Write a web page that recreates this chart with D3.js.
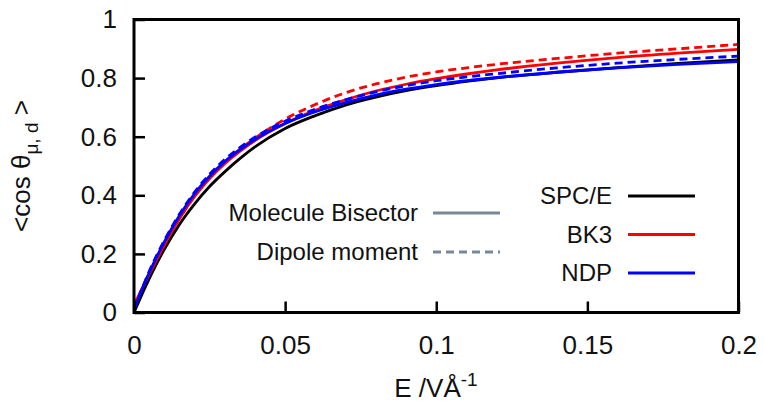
<!DOCTYPE html>
<html><head><meta charset="utf-8">
<script src="https://cdn.jsdelivr.net/npm/d3@7"></script>
<style>body{margin:0;background:#fff}svg{display:block;font-family:"Liberation Sans",Arial,sans-serif}</style>
</head><body><svg id="c" width="764" height="406"></svg>
<script>
const E = [0,0.005,0.01,0.015,0.02,0.025,0.03,0.035,0.04,0.05,0.06,0.07,0.08,0.09,0.1,0.11,0.12,0.14,0.16,0.18,0.2];
const spceBisector = [0,0.115,0.215,0.30,0.37,0.43,0.48,0.525,0.565,0.628,0.672,0.708,0.735,0.757,0.774,0.789,0.801,0.82,0.836,0.85,0.862];
const bk3Bisector  = [0.025,0.13,0.23,0.32,0.395,0.457,0.508,0.55,0.587,0.645,0.69,0.726,0.756,0.779,0.798,0.814,0.828,0.851,0.87,0.885,0.898];
const bk3Dipole    = [0.025,0.13,0.23,0.32,0.397,0.46,0.513,0.557,0.595,0.66,0.71,0.75,0.78,0.803,0.821,0.835,0.847,0.867,0.885,0.90,0.915];
const ndpBisector  = [0.01,0.135,0.24,0.33,0.405,0.465,0.515,0.555,0.59,0.645,0.685,0.716,0.742,0.762,0.778,0.791,0.802,0.82,0.835,0.847,0.856];
const ndpDipole    = [0.01,0.14,0.245,0.335,0.41,0.472,0.522,0.563,0.598,0.653,0.694,0.726,0.753,0.774,0.791,0.804,0.815,0.835,0.851,0.864,0.875];
const xTicks = [0,0.05,0.1,0.15,0.2];
const xTickLabels = ["0","0.05","0.1","0.15","0.2"];
const yTicks = [0,0.2,0.4,0.6,0.8,1];
const yTickLabels = ["0","0.2","0.4","0.6","0.8","1"];
const modelNames = ["SPC/E","BK3","NDP"];
const modelColors = ["#000000","#ff0000","#0000ff"];
const styleNames = ["Molecule Bisector","Dipole moment"];

const svg = d3.select("#c");
const L=134, R=738.5, T=19.5, B=312.5;
const x = d3.scaleLinear().domain([0,0.2]).range([L,R]);
const y = d3.scaleLinear().domain([0,1]).range([B,T]);
const line = d3.line().x(d=>x(d[0])).y(d=>y(d[1])).curve(d3.curveMonotoneX);

const series = [
  {v:spceBisector,c:modelColors[0],dash:null},
  {v:bk3Dipole,c:modelColors[1],dash:"8,5"},
  {v:bk3Bisector,c:modelColors[1],dash:null},
  {v:ndpDipole,c:modelColors[2],dash:"8,5"},
  {v:ndpBisector,c:modelColors[2],dash:null}
];
svg.append("clipPath").attr("id","cp").append("rect").attr("x",L).attr("y",T).attr("width",R-L).attr("height",B-T);
const g = svg.append("g").attr("clip-path","url(#cp)");
series.forEach(s=>{
  g.append("path").datum(E.map((e,i)=>[e,s.v[i]])).attr("d",line)
   .attr("fill","none").attr("stroke",s.c).attr("stroke-width",2.8)
   .attr("stroke-dasharray",s.dash);
});

// axes
const ax = svg.append("g").attr("transform",`translate(0,${B})`)
  .call(d3.axisBottom(x).tickValues(xTicks).tickFormat((d,i)=>xTickLabels[i]).tickSizeInner(-11).tickSizeOuter(0).tickPadding(23));
const ay = svg.append("g").attr("transform",`translate(${L},0)`)
  .call(d3.axisLeft(y).tickValues(yTicks).tickFormat((d,i)=>yTickLabels[i]).tickSizeInner(-11).tickSizeOuter(0).tickPadding(17));
[ax,ay].forEach(a=>{
  a.select(".domain").remove();
  a.selectAll("line").attr("stroke","#000").attr("stroke-width",2.5);
  a.selectAll("text").attr("font-size",26).attr("fill","#111").attr("font-family","Liberation Sans, Arial, sans-serif");
});
ax.selectAll("text").attr("dy","0.71em");
svg.append("rect").attr("x",L).attr("y",T).attr("width",R-L).attr("height",B-T)
  .attr("fill","none").attr("stroke","#000").attr("stroke-width",3);

// axis titles
const xl = svg.append("text").attr("x",436).attr("y",397).attr("text-anchor","middle").attr("font-size",26).attr("fill","#111");
xl.append("tspan").text("E /VÅ");
xl.append("tspan").attr("dy",-11).attr("font-size",19).text("-1");

const yl = svg.append("text").attr("transform","translate(30,166) rotate(-90)").attr("text-anchor","middle").attr("font-size",26).attr("fill","#111");
yl.append("tspan").text("<cos θ");
yl.append("tspan").attr("dy",8).attr("font-size",19).text("μ, d");
yl.append("tspan").attr("dy",-8).text(" >");

// legends
const lg = svg.append("g").attr("font-size",24).attr("fill","#111");
modelNames.forEach((n,i)=>{
  const yy = 196 + i*38.5;
  lg.append("text").attr("x",612).attr("y",yy).attr("dy","0.35em").attr("text-anchor","end").text(n);
  lg.append("line").attr("x1",628).attr("x2",695).attr("y1",yy).attr("y2",yy).attr("stroke",modelColors[i]).attr("stroke-width",2.8);
});
styleNames.forEach((n,i)=>{
  const yy = 213 + i*39;
  lg.append("text").attr("x",418).attr("y",yy).attr("dy","0.35em").attr("text-anchor","end").text(n);
  lg.append("line").attr("x1",433).attr("x2",500).attr("y1",yy).attr("y2",yy).attr("stroke","#778899").attr("stroke-width",2.8)
    .attr("stroke-dasharray",i?"8,5":null);
});
</script></body></html>
